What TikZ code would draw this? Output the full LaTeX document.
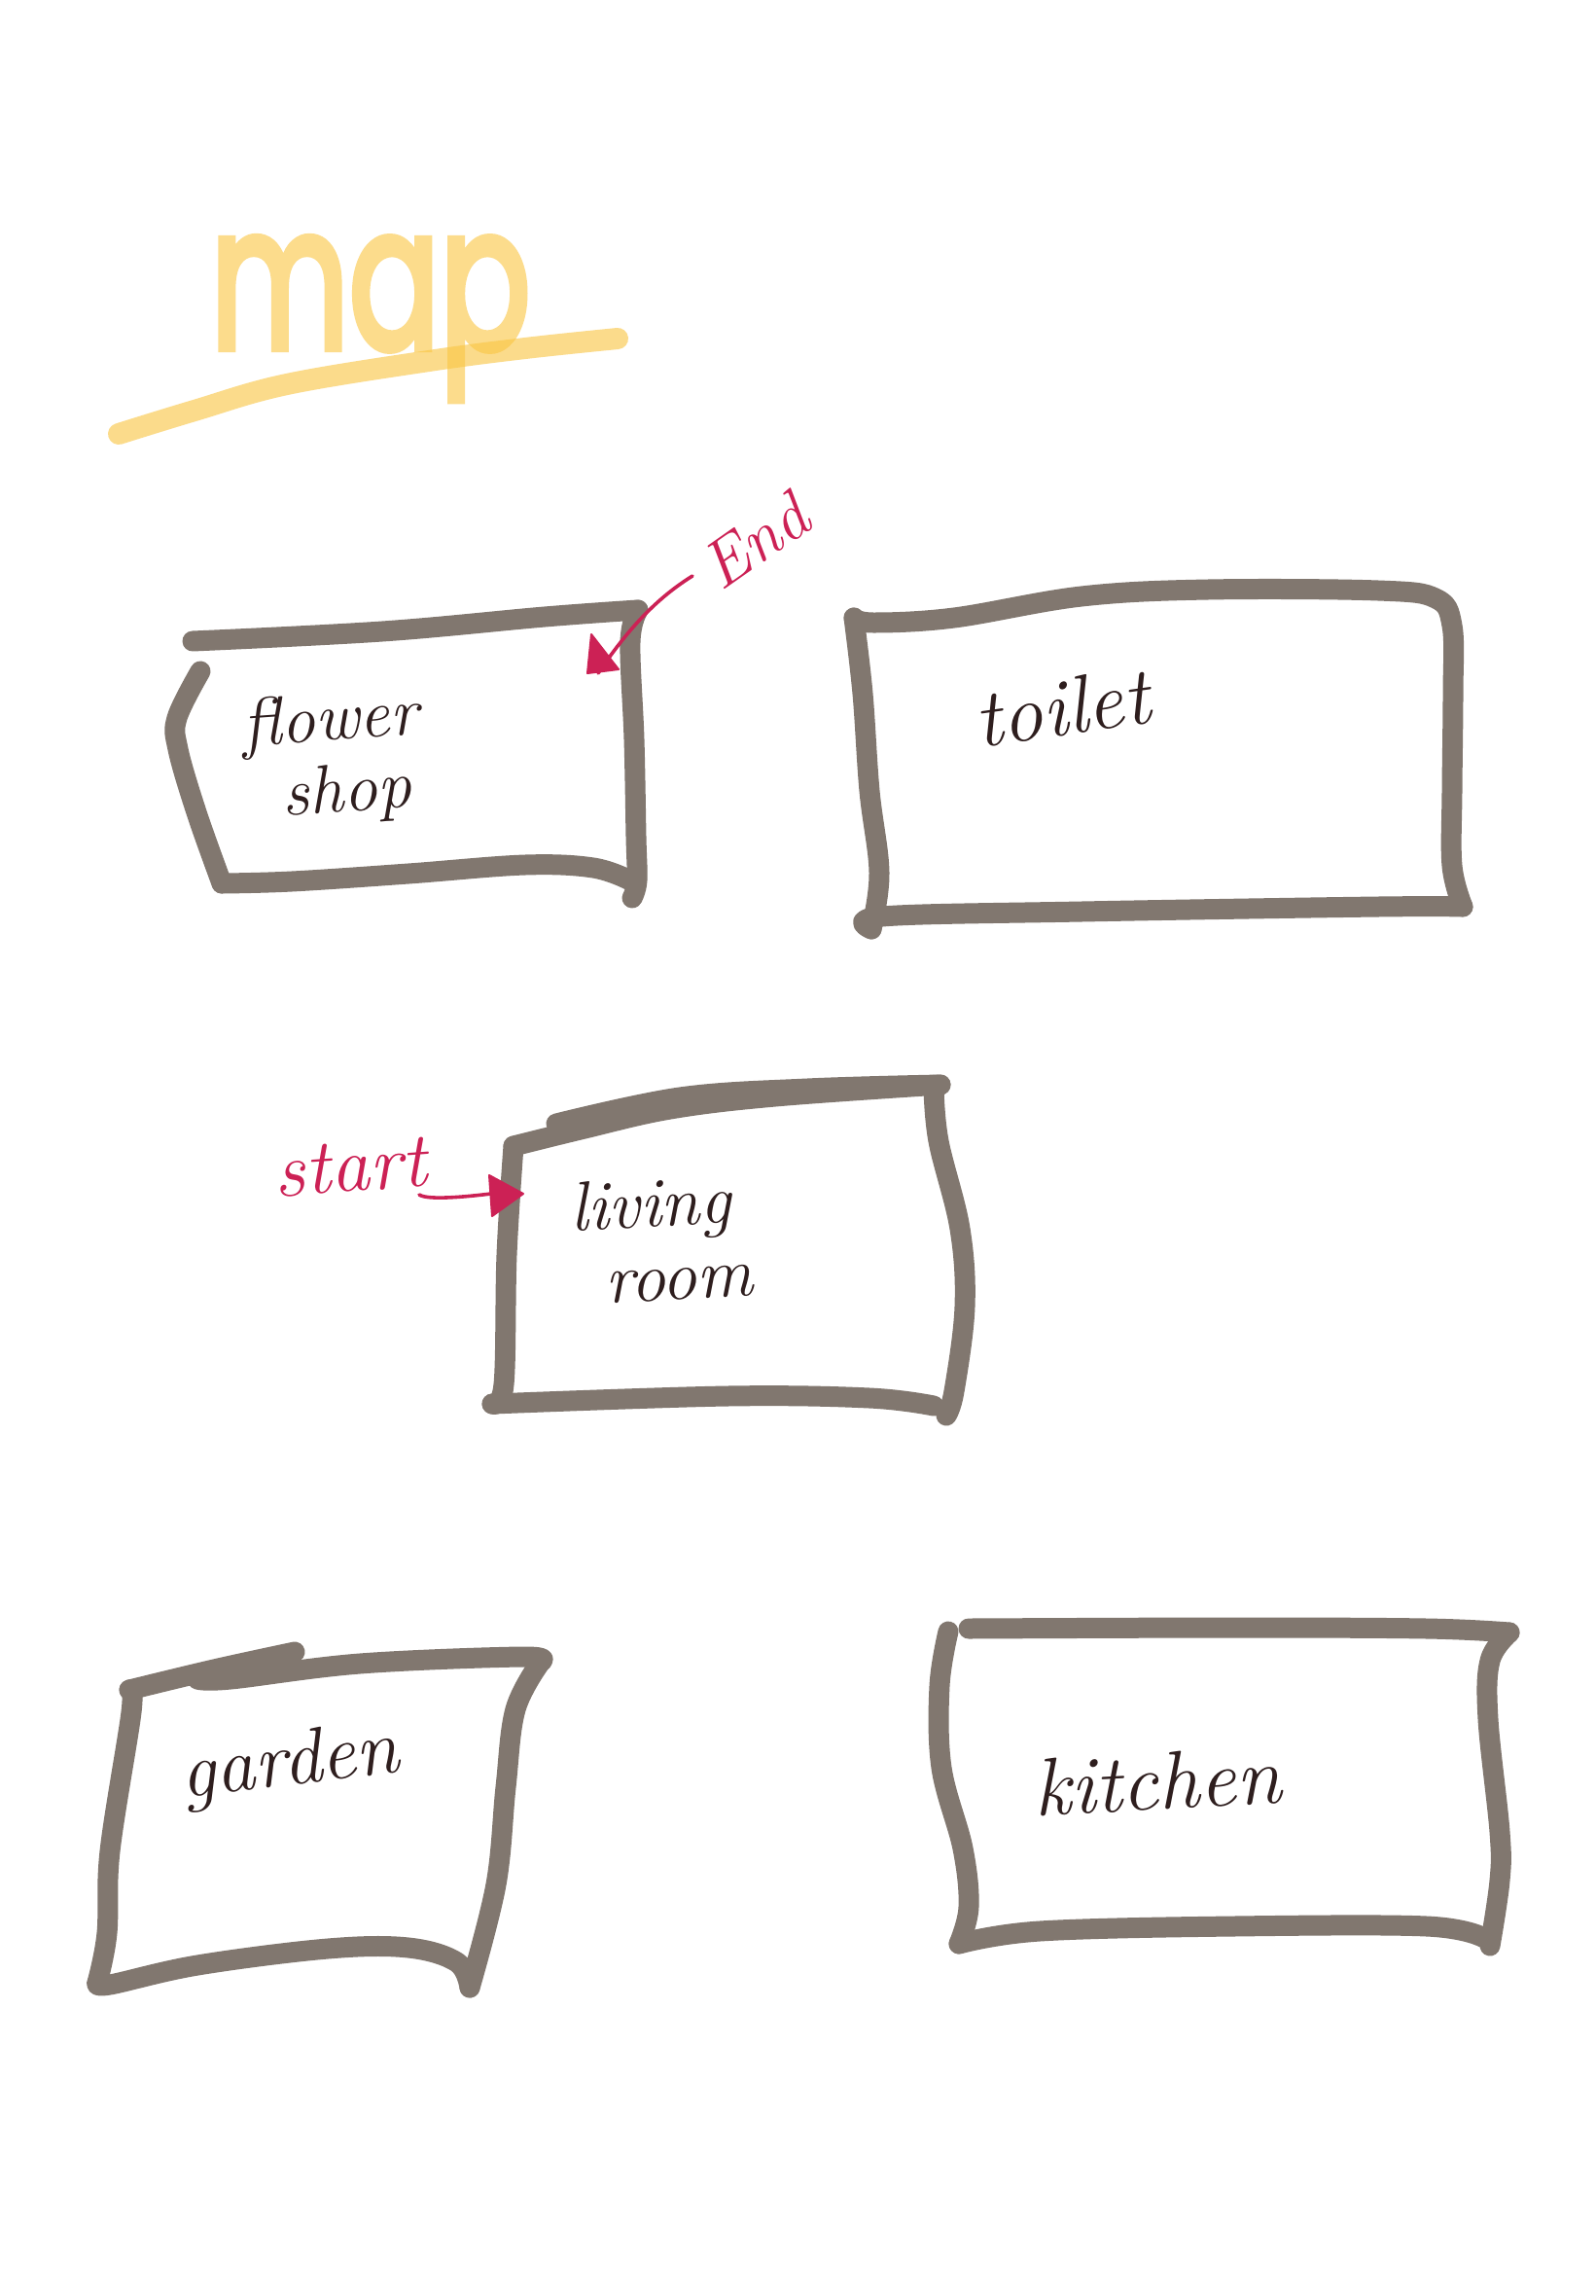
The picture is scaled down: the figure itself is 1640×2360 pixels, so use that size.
\documentclass[tikz,border=0pt]{standalone}
\usepackage{fontspec}
\setsansfont{Poppins}
\definecolor{boxgray}{HTML}{81776F}
\definecolor{inkbrown}{HTML}{2E1E1E}
\definecolor{pinkred}{HTML}{CC2155}
\definecolor{marker}{HTML}{FAC644}
\definecolor{markerpale}{HTML}{FCDC8C}
\tikzset{
  wall/.style={draw=boxgray,line width=10.5pt,line cap=round,line join=round},
  pen/.style={text=inkbrown,inner sep=0pt,font=\itshape},
  redpen/.style={text=pinkred,inner sep=0pt,font=\itshape},
  redline/.style={draw=pinkred,line width=1.8pt,line cap=round,line join=round},
  redhead/.style={fill=pinkred,draw=pinkred,line width=1pt,line join=round},
  sm/.style={smooth,tension=0.6}
}
\begin{document}
\begin{tikzpicture}[x=0.5pt,y=-0.5pt]
\useasboundingbox (0,0) rectangle (1640,2360);
\fill[white] (0,0) rectangle (1640,2360);
% title
\node[anchor=base west,inner sep=0pt,text=markerpale,font=\sffamily\addfontfeature{FakeBold=4}\fontsize{72}{80}\selectfont,xscale=.96,yscale=1.42,transform shape] (title) at (216,358) {map};
\draw[draw=marker,opacity=.62,line width=11pt,line cap=round] plot[sm] coordinates {(122,446) (200,422) (295,395) (441,371) (540,358) (635,348)};
% flower shop box
\draw[wall] plot[sm] coordinates {(198,659) (393,649) (560,634) (656,627)};
\draw[wall] plot[sm] coordinates {(656,627) (648,660) (652,760) (654,860) (655,905) (650,923)};
\draw[wall] plot[sm] coordinates {(206,690) (182,738) (183,770) (202,835) (228,908)};
\draw[wall] plot[sm] coordinates {(228,908) (300,906) (420,898) (540,889) (610,892) (648,905)};
\node[pen,align=left,font=\itshape\fontsize{35}{37}\selectfont,rotate=4] (flower) at (342,780) {flower\\\hspace*{18pt}shop};
% toilet box
\draw[wall] plot[sm] coordinates {(878,635) (887,713) (894,813) (904,897) (896,955)};
\draw[wall] plot[sm] coordinates {(896,955) (907,942) (1112,937) (1417,932) (1504,932)};
\draw[wall] plot[sm] coordinates {(1504,932) (1493,890) (1493,813) (1494,713) (1493,643) (1476,615) (1417,607) (1242,606) (1112,613) (981,635) (898,640) (878,635)};
\node[pen,font=\itshape\fontsize{42}{42}\selectfont,rotate=8] (toilet) at (1092,727) {toilet};
% living room box
\draw[wall] plot[sm] coordinates {(572,1155) (699,1128) (830,1119) (967,1115)};
\draw[wall] plot[sm] coordinates {(528,1178) (601,1160) (689,1140) (797,1127) (967,1115)};
\draw[wall] plot[sm] coordinates {(960,1118) (965,1173) (987,1263) (992,1343) (981,1430) (973,1455)};
\draw[wall] plot[sm] coordinates {(528,1178) (521,1290) (518,1423) (506,1443)};
\draw[wall] plot[sm] coordinates {(506,1443) (748,1435) (894,1437) (960,1445)};
\node[pen,align=left,font=\itshape\fontsize{36}{38}\selectfont,rotate=3] (living) at (680,1274) {living\\\hspace*{16pt}room};
% garden box
\draw[wall] plot[sm] coordinates {(133,1737) (220,1716) (303,1698)};
\draw[wall] plot[sm] coordinates {(203,1726) (237,1726) (370,1710) (537,1703) (556,1708)};
\draw[wall] plot[sm] coordinates {(556,1708) (530,1757) (520,1837) (510,1937) (483,2043)};
\draw[wall] plot[sm] coordinates {(133,1737) (135,1760) (113,1903) (110,1987) (100,2038)};
\draw[wall] plot[sm] coordinates {(100,2038) (113,2040) (203,2020) (337,2003) (420,2002) (470,2017) (483,2043)};
\node[pen,font=\itshape\fontsize{40}{40}\selectfont,rotate=7] (garden) at (298,1815) {garden};
% kitchen box
\draw[wall] plot[sm] coordinates {(996,1674) (1268,1673) (1467,1674) (1552,1678)};
\draw[wall] plot[sm] coordinates {(1552,1678) (1532,1707) (1530,1767) (1542,1883) (1542,1933) (1532,2000)};
\draw[wall] plot[sm] coordinates {(975,1677) (966,1733) (968,1817) (990,1900) (996,1960) (986,1998)};
\draw[wall] plot[sm] coordinates {(986,1998) (1069,1985) (1268,1980) (1467,1980) (1526,1992)};
\node[pen,font=\itshape\fontsize{42}{42}\selectfont,rotate=3] (kitchen) at (1190,1831) {kitchen};
% end label and arrow
\node[redpen,font=\itshape\fontsize{34}{34}\selectfont,rotate=35] (endlabel) at (776,556) {End};
\coordinate (endfrom) at (712,592);
\coordinate (endtip) at (615,692);
\coordinate (enda) at (608,652);
\coordinate (endb) at (604,692);
\coordinate (endc) at (636,688);
\draw[redline] (endfrom) .. controls (680,612) and (650,640) .. (endtip);
\filldraw[redhead] (enda) -- (endb) -- (endc) -- cycle;
% start label and arrow
\node[redpen,font=\itshape\fontsize{40}{40}\selectfont,rotate=4] (startlabel) at (360,1200) {start};
\coordinate (startfrom) at (431,1228);
\coordinate (starttip) at (505,1227);
\coordinate (starta) at (503,1208);
\coordinate (startb) at (506,1250);
\coordinate (startc) at (538,1227);
\draw[redline] (startfrom) .. controls (440,1234) and (480,1230) .. (starttip);
\filldraw[redhead] (starta) -- (startb) -- (startc) -- cycle;
\end{tikzpicture}
\end{document}
